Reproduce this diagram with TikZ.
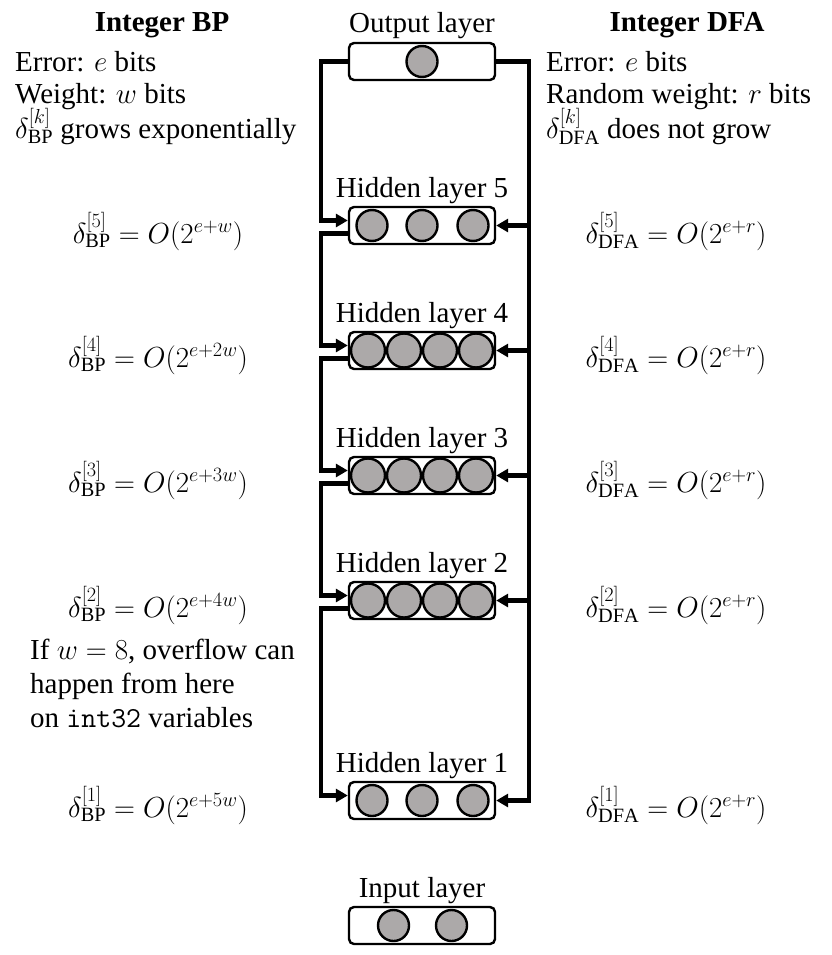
\RequirePackage{fix-cm}
\documentclass[tikz,border=0pt]{standalone}
\usepackage{fontspec}
\setmainfont{Liberation Serif}
\usetikzlibrary{arrows.meta}
\definecolor{neur}{RGB}{172,169,169}
\begin{document}
\begin{tikzpicture}[x=1pt,y=-1pt,
  layer/.style={draw,line width=2.4pt,rounded corners=5pt,minimum width=146pt,minimum height=37pt,inner sep=0pt},
  nsmall/.style={circle,draw,line width=2.4pt,fill=neur,minimum size=31pt,inner sep=0pt},
  nbig/.style={circle,draw,line width=2.4pt,fill=neur,minimum size=34pt,inner sep=0pt},
  conn/.style={line width=4.2pt},
  arr/.style={conn,-{Triangle[length=12pt,width=13pt]}},
  txt/.style={font=\fontsize{29}{34}\selectfont,inner sep=0pt},
  lab/.style={txt,anchor=base},
  lft/.style={txt,anchor=base west},
  ttl/.style={font=\bfseries\fontsize{29}{34}\selectfont,inner sep=0pt,anchor=base},
]
\useasboundingbox (0,0) rectangle (831,955);

% layer boxes
\node[layer] (out) at (422,61.5) {};
\node[layer] (h5) at (422,225.5) {};
\node[layer] (h4) at (422,350.5) {};
\node[layer] (h3) at (422,475.5) {};
\node[layer] (h2) at (422,600.5) {};
\node[layer] (h1) at (422,800.5) {};
\node[layer] (inp) at (422,925.5) {};

% neurons
\node[nsmall] (o1) at (422,61.5) {};
\foreach \n/\x in {a/372,b/422,c/473}{
  \node[nsmall] (h5\n) at (\x,225.5) {};
  \node[nsmall] (h1\n) at (\x,800.5) {};
}
\foreach \n/\x in {a/368,b/404,c/440,d/476}{
  \node[nbig] (h4\n) at (\x,350.5) {};
  \node[nbig] (h3\n) at (\x,475.5) {};
  \node[nbig] (h2\n) at (\x,600.5) {};
}
\node[nsmall] (i1) at (393.5,925.5) {};
\node[nsmall] (i2) at (451.5,925.5) {};

% layer labels
\node[lab] (lout) at (422,33) {Output layer};
\node[lab] (l5) at (422,197) {Hidden layer 5};
\node[lab] (l4) at (422,322) {Hidden layer 4};
\node[lab] (l3) at (422,447) {Hidden layer 3};
\node[lab] (l2) at (422,572) {Hidden layer 2};
\node[lab] (l1) at (422,772) {Hidden layer 1};
\node[lab] (lin) at (422,897) {Input layer};

% connector helper coordinates
\coordinate (lx) at (321,0);
\coordinate (rx) at (529,0);
\foreach \h in {h5,h4,h3,h2,h1}{
  \coordinate (\h in) at ([yshift=5pt]\h.west);
  \coordinate (\h ex) at ([yshift=-8pt]\h.west);
}

% BP (left) connectors
\draw[arr] (out.west) -- (out.west -| lx) |- (h5in);
\draw[arr] (h5ex) -- (h5ex -| lx) |- (h4in);
\draw[arr] (h4ex) -- (h4ex -| lx) |- (h3in);
\draw[arr] (h3ex) -- (h3ex -| lx) |- (h2in);
\draw[arr] (h2ex) -- (h2ex -| lx) |- (h1in);

% DFA (right) connectors
\draw[arr] (out.east) -- (out.east -| rx) -- (rx |- h1.east) -- (h1.east);
\foreach \h in {h5,h4,h3,h2}{
  \draw[arr] (rx |- \h.east) -- (\h.east);
}

% titles
\node[ttl] (tbp) at (162,32) {Integer BP};
\node[ttl] (tdfa) at (687,32) {Integer DFA};

% left notes
\node[lft] (bp1) at (15,72) {Error: $e$ bits};
\node[lft] (bp2) at (15,103) {Weight: $w$ bits};
\node[lft] (bp3) at (15,139) {$\delta^{[k]}_{\mathrm{BP}}$ grows exponentially};

\node[lft] (dfa1) at (546,72) {Error: $e$ bits};
\node[lft] (dfa2) at (546,103) {Random weight: $r$ bits};
\node[lft] (dfa3) at (546,139) {$\delta^{[k]}_{\mathrm{DFA}}$ does not grow};

% formulas
\node[lab] (fb5) at (158,243) {$\delta^{[5]}_{\mathrm{BP}} = O(2^{e+w})$};
\node[lab] (fb4) at (158,367) {$\delta^{[4]}_{\mathrm{BP}} = O(2^{e+2w})$};
\node[lab] (fb3) at (158,492) {$\delta^{[3]}_{\mathrm{BP}} = O(2^{e+3w})$};
\node[lab] (fb2) at (158,617) {$\delta^{[2]}_{\mathrm{BP}} = O(2^{e+4w})$};
\node[lab] (fb1) at (158,817) {$\delta^{[1]}_{\mathrm{BP}} = O(2^{e+5w})$};

\node[lab] (fd5) at (676,243) {$\delta^{[5]}_{\mathrm{DFA}} = O(2^{e+r})$};
\node[lab] (fd4) at (676,367) {$\delta^{[4]}_{\mathrm{DFA}} = O(2^{e+r})$};
\node[lab] (fd3) at (676,492) {$\delta^{[3]}_{\mathrm{DFA}} = O(2^{e+r})$};
\node[lab] (fd2) at (676,617) {$\delta^{[2]}_{\mathrm{DFA}} = O(2^{e+r})$};
\node[lab] (fd1) at (676,817) {$\delta^{[1]}_{\mathrm{DFA}} = O(2^{e+r})$};

% overflow note
\node[lft] (ov1) at (30,659) {If $w = 8$, overflow can};
\node[lft] (ov2) at (30,693) {happen from here};
\node[lft] (ov3) at (30,727) {on \texttt{int32} variables};
\end{tikzpicture}
\end{document}
